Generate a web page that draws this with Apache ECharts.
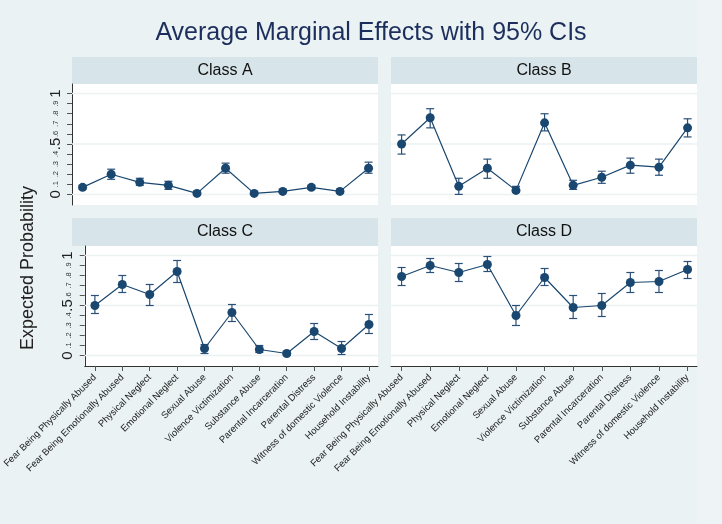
<!DOCTYPE html>
<html><head><meta charset="utf-8">
<script src="https://cdn.jsdelivr.net/npm/echarts@6/dist/echarts.min.js"></script>
<style>html,body{margin:0;padding:0;background:#eef4f6;}#c{width:722px;height:524px;}</style>
</head><body><div id="c"></div>
<script>
const categories = ['Fear Being Physically Abused','Fear Being Emotionally Abused','Physical Neglect','Emotional Neglect','Sexual Abuse','Violence Victimization','Substance Abuse','Parental Incarceration','Parental Distress','Witness of domestic Violence','Household Instability'];
const classNames = ['Class A','Class B','Class C','Class D'];

const estA = [0.07,0.20,0.12,0.09,0.01,0.26,0.01,0.03,0.07,0.03,0.26];
const loA  = [0.05,0.15,0.09,0.05,0.00,0.21,0.00,0.02,0.05,0.015,0.21];
const hiA  = [0.09,0.25,0.16,0.13,0.03,0.31,0.03,0.05,0.09,0.05,0.32];

const estB = [0.50,0.76,0.08,0.26,0.04,0.71,0.09,0.17,0.29,0.27,0.66];
const loB  = [0.40,0.66,0.00,0.16,0.02,0.63,0.05,0.11,0.21,0.19,0.57];
const hiB  = [0.59,0.85,0.16,0.35,0.08,0.80,0.14,0.23,0.36,0.35,0.75];

const estC = [0.50,0.71,0.61,0.84,0.07,0.43,0.06,0.02,0.24,0.07,0.31];
const loC  = [0.42,0.63,0.50,0.73,0.02,0.34,0.03,0.00,0.16,0.01,0.22];
const hiC  = [0.60,0.80,0.71,0.95,0.11,0.51,0.10,0.04,0.32,0.14,0.41];

const estD = [0.79,0.90,0.83,0.91,0.40,0.78,0.48,0.50,0.73,0.74,0.86];
const loD  = [0.70,0.83,0.74,0.84,0.30,0.70,0.37,0.39,0.63,0.63,0.77];
const hiD  = [0.88,0.97,0.92,0.99,0.50,0.87,0.60,0.62,0.83,0.85,0.94];

const yTickValues = [0,0.1,0.2,0.3,0.4,0.5,0.6,0.7,0.8,0.9,1];
const yTickLabels = ['0','.1','.2','.3','.4','.5','.6','.7','.8','.9','1'];
const yBigLabels = ['0','.5','1'];
const yGridValues = [0,0.5,1];

const NAVY = '#1a476f';
const XMIN = -0.37, XMAX = 10.33, YMIN = -0.105, YMAX = 1.095;
const FONT = 'Liberation Sans, Arial, Helvetica, sans-serif';

const panels = [
  {name: classNames[0], est: estA, lo: loA, hi: hiA, left: 72,  top: 84,  h: 121, stripTop: 57,  leftCol: true,  bottomRow: false},
  {name: classNames[1], est: estB, lo: loB, hi: hiB, left: 391, top: 84,  h: 121, stripTop: 57,  leftCol: false, bottomRow: false},
  {name: classNames[2], est: estC, lo: loC, hi: hiC, left: 72,  top: 246, h: 120, stripTop: 218, leftCol: true,  bottomRow: true},
  {name: classNames[3], est: estD, lo: loD, hi: hiD, left: 391, top: 246, h: 120, stripTop: 218, leftCol: false, bottomRow: true}
];
const W = 306;
const xIdx = categories.map((c, i) => i);

const grid = [], xAxis = [], yAxis = [], series = [], graphic = [];

graphic.push({type: 'rect', shape: {x: 0, y: 0, width: 697, height: 524}, style: {fill: '#eaf2f3'}, z: -10, silent: true});
graphic.push({type: 'text', x: 371, y: 33, style: {text: 'Average Marginal Effects with 95% CIs', font: '25px ' + FONT, fill: '#1c2e5c', textAlign: 'center', textVerticalAlign: 'middle'}});
graphic.push({type: 'text', x: 28, y: 268, rotation: Math.PI / 2, style: {text: 'Expected Probability', font: '18px ' + FONT, fill: '#222', textAlign: 'center', textVerticalAlign: 'middle'}});

panels.forEach((p, i) => {
  grid.push({left: p.left, top: p.top, width: W, height: p.h, show: true, backgroundColor: '#ffffff', borderWidth: 0, containLabel: false});
  graphic.push({type: 'rect', shape: {x: p.left, y: p.stripTop, width: W, height: p.top - p.stripTop}, style: {fill: '#d7e4ea'}, silent: true});
  graphic.push({type: 'text', x: p.left + W / 2, y: (p.stripTop + p.top) / 2, style: {text: p.name, font: '16px ' + FONT, fill: '#111', textAlign: 'center', textVerticalAlign: 'middle'}});

  xAxis.push({
    gridIndex: i, type: 'value', min: XMIN, max: XMAX,
    axisLine: {show: p.bottomRow, onZero: false, lineStyle: {color: '#333', width: 1}},
    axisTick: {show: p.bottomRow, customValues: xIdx, length: 5, lineStyle: {color: '#555'}},
    axisLabel: {show: p.bottomRow, customValues: xIdx, rotate: 45, margin: 10, fontSize: 9.5, fontFamily: FONT, color: '#222',
      formatter: v => categories[Math.round(v)]},
    splitLine: {show: false}
  });
  yAxis.push({
    gridIndex: i, type: 'value', min: YMIN, max: YMAX,
    axisLine: {show: p.leftCol, onZero: false, lineStyle: {color: '#333', width: 1}},
    axisTick: {show: p.leftCol, customValues: yTickValues, length: 5, lineStyle: {color: '#555'}},
    axisLabel: {show: p.leftCol, customValues: yTickValues, rotate: 90, margin: 9, color: '#222', fontFamily: FONT,
      formatter: v => {
        const lab = yTickLabels[Math.round(v * 10)];
        return yBigLabels.indexOf(lab) >= 0 ? '{b|' + lab + '}' : '{s|' + lab + '}';
      },
      rich: {b: {fontSize: 15, fontFamily: FONT, color: '#222'}, s: {fontSize: 7.5, fontFamily: FONT, color: '#333', padding: [0, 0, 3, 0]}}},
    splitLine: {show: false}
  });

  series.push({
    type: 'custom', xAxisIndex: i, yAxisIndex: i, z: 1, silent: true,
    data: yGridValues.map(v => [v]),
    encode: {y: 0},
    renderItem: (params, api) => {
      const y = api.value(0);
      const a = api.coord([XMIN, y]), b = api.coord([XMAX, y]);
      return {type: 'line', shape: {x1: a[0], y1: a[1], x2: b[0], y2: b[1]}, style: {stroke: '#eaf2f3', lineWidth: 1.5}};
    }
  });
  series.push({
    type: 'custom', xAxisIndex: i, yAxisIndex: i, z: 2, silent: true,
    data: p.est.map((v, k) => [k, p.lo[k], p.hi[k]]),
    encode: {x: 0, y: [1, 2]},
    renderItem: (params, api) => {
      const x = api.value(0);
      const a = api.coord([x, api.value(1)]), b = api.coord([x, api.value(2)]);
      const cw = 4;
      const st = {stroke: '#2a5078', lineWidth: 1.2};
      return {type: 'group', children: [
        {type: 'line', shape: {x1: a[0], y1: a[1], x2: b[0], y2: b[1]}, style: st},
        {type: 'line', shape: {x1: a[0] - cw, y1: a[1], x2: a[0] + cw, y2: a[1]}, style: st},
        {type: 'line', shape: {x1: b[0] - cw, y1: b[1], x2: b[0] + cw, y2: b[1]}, style: st}
      ]};
    }
  });
  series.push({
    type: 'line', xAxisIndex: i, yAxisIndex: i, z: 3,
    data: p.est.map((v, k) => [k, v]),
    symbol: 'circle', symbolSize: 9, showSymbol: true,
    lineStyle: {color: NAVY, width: 1.2},
    itemStyle: {color: NAVY, borderWidth: 0},
    emphasis: {disabled: true}
  });
});

const chart = echarts.init(document.getElementById('c'), null, {renderer: 'canvas'});
chart.setOption({
  animation: false,
  backgroundColor: 'transparent',
  grid, xAxis, yAxis, series, graphic,
  tooltip: {show: false}
});
</script>
</body></html>
